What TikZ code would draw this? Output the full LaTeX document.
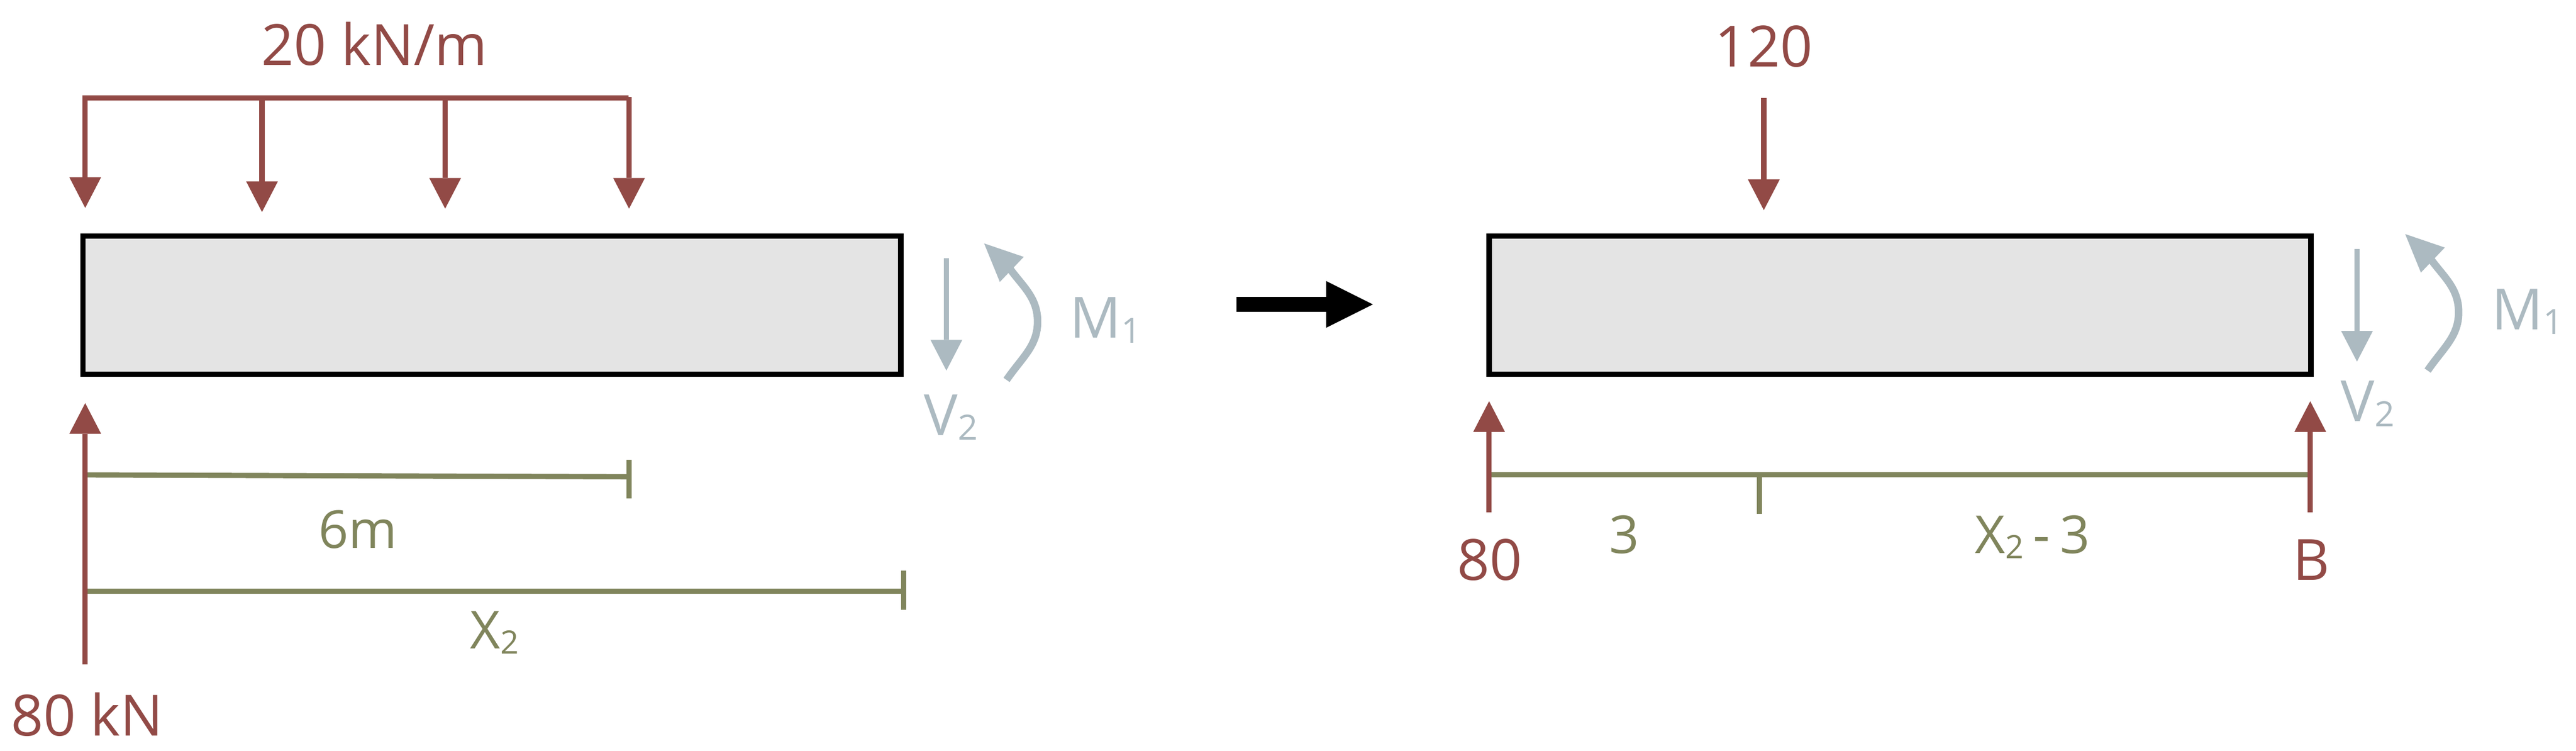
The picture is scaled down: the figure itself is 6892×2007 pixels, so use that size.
\documentclass[tikz,border=0pt]{standalone}
\usepackage{fontspec}
\setmainfont{Open Sans}
\usetikzlibrary{arrows.meta}
\definecolor{loadred}{RGB}{146,74,70}
\definecolor{dimgreen}{RGB}{128,133,92}
\definecolor{reactgray}{RGB}{172,186,193}
\definecolor{beamfill}{RGB}{228,228,228}
\newcommand{\sbs}[1]{\raisebox{-1.3pt}{\fontsize{9.3}{9}\selectfont #1}}
\newcommand{\sbg}[1]{\raisebox{-1.3pt}{\fontsize{8.6}{9}\selectfont #1}}
\tikzset{
  x=0.1pt,y=-0.1pt,
  beambox/.style={draw=black,fill=beamfill,line width=1.45pt,minimum width=218.8pt,minimum height=37pt,inner sep=0pt,outer sep=0pt},
  beamboxb/.style={beambox,minimum width=219.9pt},
  lab/.style={anchor=base,inner sep=0pt,font=\fontsize{15.2}{16}\selectfont},
  redlab/.style={lab,text=loadred},
  greenlab/.style={anchor=base,inner sep=0pt,font=\fontsize{14}{15}\selectfont,text=dimgreen},
  graylab/.style={lab,text=reactgray},
  redarrow/.style={draw=loadred,line width=1.4pt,-{Triangle[length=8.2pt,width=8.5pt,line width=0pt]}},
  grayarrow/.style={draw=reactgray,line width=1.4pt,-{Triangle[length=8.2pt,width=8.5pt,line width=0pt]}},
  redbar/.style={draw=loadred,line width=1.4pt},
  dimline/.style={draw=dimgreen,line width=1.4pt},
  dimtick/.style={draw=dimgreen,line width=1.4pt},
  bigarrow/.style={draw=black,line width=4.1pt,-{Triangle[length=12.5pt,width=12.5pt,line width=0pt]}},
  momentline/.style={draw=reactgray,line width=2pt},
  momenthead/.style={fill=reactgray,draw=none},
}
\begin{document}
\begin{tikzpicture}
\useasboundingbox[fill=white] (0,0) rectangle (6892,2007);
% --- left beam
\node[beambox] (beamL) at (1316,816) {};
\coordinate (topL) at (221,262);
\coordinate (topR) at (1682,262);
\draw[redbar] (topL) -- (topR);
\coordinate (a1s) at (228,256); \coordinate (a1e) at (228,556);
\coordinate (a2s) at (701,262); \coordinate (a2e) at (701,567);
\coordinate (a3s) at (1191,262); \coordinate (a3e) at (1191,558);
\coordinate (a4s) at (1683,259); \coordinate (a4e) at (1683,558);
\draw[redarrow] (a1s) -- (a1e);
\draw[redarrow] (a2s) -- (a2e);
\draw[redarrow] (a3s) -- (a3e);
\draw[redarrow] (a4s) -- (a4e);
\node[redlab] (loadL) at (1002,175) {20 kN/m};
% dimensions left
\coordinate (d1s) at (228,1270); \coordinate (d1e) at (1683,1275);
\coordinate (d1a) at (1683,1230); \coordinate (d1b) at (1683,1333);
\draw[dimline] (d1s) -- (d1e);
\draw[dimtick] (d1a) -- (d1b);
\coordinate (d2s) at (228,1581); \coordinate (d2e) at (2418,1581);
\coordinate (d2a) at (2418,1526); \coordinate (d2b) at (2418,1630);
\draw[dimline] (d2s) -- (d2e);
\draw[dimtick] (d2a) -- (d2b);
\node[greenlab] (sixm) at (957,1466) {6m};
\node[greenlab] (xtwoL) at (1323,1735) {X\sbg{2}};
% reaction left
\coordinate (r1s) at (228,1777); \coordinate (r1e) at (228,1078);
\draw[redarrow] (r1s) -- (r1e);
\node[redlab] (rL) at (233,1968) {80 kN};
% shear and moment left
\coordinate (v1s) at (2532,691); \coordinate (v1e) at (2532,991);
\draw[grayarrow] (v1s) -- (v1e);
\node[graylab] (vL) at (2544,1164) {V\sbs{2}};
\draw[momentline] (2693,1016) .. controls (2735,955) and (2776,925) .. (2776,860)
   .. controls (2776,795) and (2735,765) .. (2700,716);
\fill[momenthead] (2633,651) -- (2739,687) -- (2675,754) -- cycle;
\node[graylab] (mL) at (2958,904) {M\sbs{1}};
% --- transition arrow
\coordinate (ts) at (3308,814); \coordinate (te) at (3673,814);
\draw[bigarrow] (ts) -- (te);
% --- right beam
\node[beamboxb] (beamR) at (5083.5,816) {};
\coordinate (p1s) at (4719,262); \coordinate (p1e) at (4719,562);
\draw[redarrow] (p1s) -- (p1e);
\node[redlab] (loadR) at (4719,179) {120};
% dimensions right
\coordinate (d3s) at (3984,1269); \coordinate (d3e) at (6181,1269);
\coordinate (d3b) at (4707,1374);
\coordinate (d3a) at (4707,1269);
\draw[dimline] (d3s) -- (d3e);
\draw[dimtick] (d3a) -- (d3b);
\coordinate (r2s) at (3984,1370); \coordinate (r2e) at (3984,1073);
\coordinate (r3s) at (6181,1370); \coordinate (r3e) at (6181,1073);
\draw[redarrow] (r2s) -- (r2e);
\draw[redarrow] (r3s) -- (r3e);
\node[redlab] (rR1) at (3986,1552) {80};
\node[redlab] (rR2) at (6184,1552) {B};
\node[greenlab] (three) at (4345,1480) {3};
\node[greenlab] (xthree) at (5438,1480) {X\sbg{2}\kern-1pt\ -\ \kern-1pt3};
% shear and moment right
\coordinate (v2s) at (6306,666); \coordinate (v2e) at (6306,967);
\draw[grayarrow] (v2s) -- (v2e);
\node[graylab] (vR) at (6335,1127) {V\sbs{2}};
\begin{scope}[shift={(3802,-25)}]
\draw[momentline] (2693,1016) .. controls (2735,955) and (2776,925) .. (2776,860)
   .. controls (2776,795) and (2735,765) .. (2700,716);
\fill[momenthead] (2633,651) -- (2739,687) -- (2675,754) -- cycle;
\end{scope}
\node[graylab] (mR) at (6762,881) {M\sbs{1}};
\end{tikzpicture}
\end{document}
